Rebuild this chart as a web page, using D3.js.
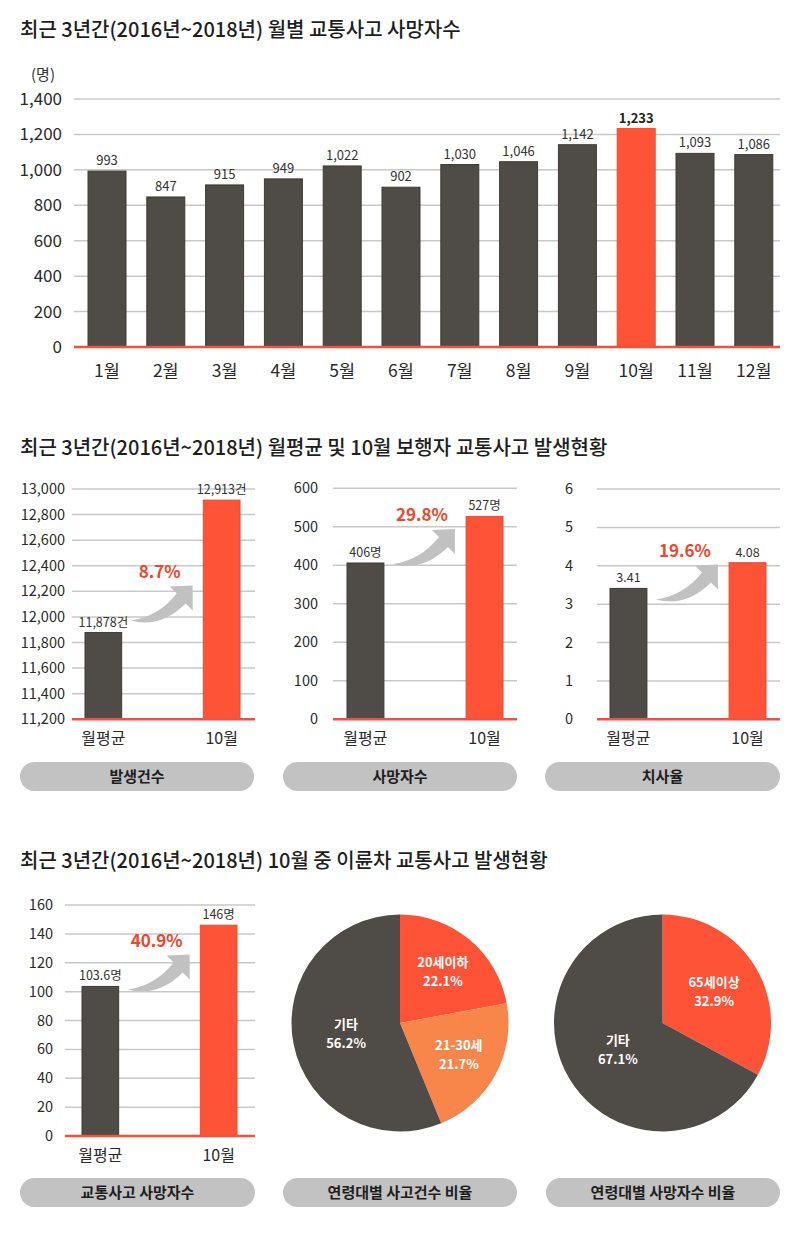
<!DOCTYPE html>
<html><head><meta charset="utf-8">
<script src="https://cdn.jsdelivr.net/npm/d3@7"></script>
<style>
body{margin:0;background:#fff;}
svg{display:block;font-family:"Noto Sans CJK KR","Noto Sans",sans-serif;}
</style>
</head><body><svg id="c" width="800" height="1244"></svg>
<script>
// ---------------- data ----------------
const chartTitles = [
  "최근 3년간(2016년~2018년) 월별 교통사고 사망자수",
  "최근 3년간(2016년~2018년) 월평균 및 10월 보행자 교통사고 발생현황",
  "최근 3년간(2016년~2018년) 10월 중 이륜차 교통사고 발생현황"
];
const months = ["1월","2월","3월","4월","5월","6월","7월","8월","9월","10월","11월","12월"];
const monthlyDeaths = [993,847,915,949,1022,902,1030,1046,1142,1233,1093,1086];
const highlightMonth = "10월";
const monthlyUnit = "(명)";

const compareCats = ["월평균","10월"];
const pedCases = [11878,12913];
const pedDeaths = [406,527];
const pedFatalityRate = [3.41,4.08];
const pedChange = ["8.7%","29.8%","19.6%"];
const motoDeaths = [103.6,146];
const motoChange = "40.9%";

const ageCaseLabels = ["20세이하","21-30세","기타"];
const ageCaseShares = [22.1,21.7,56.2];
const ageDeathLabels = ["65세이상","기타"];
const ageDeathShares = [32.9,67.1];

const panelNames = ["발생건수","사망자수","치사율","교통사고 사망자수","연령대별 사고건수 비율","연령대별 사망자수 비율"];

// ---------------- style ----------------
const DARK="#4f4b46", DARK_S="#3e3a36", RED="#fe5336", RED_S="#ee4a2f", ORANGE="#f8864b",
      GRID="#c8c8c8", BASE="#f25237", PILL="#c2c2c2", ARROW="#c1c1c1", TXT="#333";

const svg = d3.select("#c");

// titles
[[37,0],[455,1],[868,2]].forEach(([y,i])=>{
  svg.append("text").attr("x",20).attr("y",y).attr("font-size",20).attr("font-weight",500)
    .attr("fill","#1e1e1e").text(chartTitles[i]);
});

// ---------------- chart 1 ----------------
{
  const x = d3.scaleBand().domain(months).range([77.6,783.2]).paddingInner(0.354).paddingOuter(0.177);
  const y = d3.scaleLinear().domain([0,1400]).range([347,99]);
  const g = svg.append("g");
  g.append("text").attr("x",43).attr("y",80).attr("text-anchor","middle").attr("font-size",15)
    .attr("fill",TXT).text(monthlyUnit);
  const ticks = y.ticks(7);
  g.selectAll(".gl").data(ticks.filter(t=>t>0)).join("line")
    .attr("x1",74).attr("x2",780).attr("y1",d=>y(d)).attr("y2",d=>y(d))
    .attr("stroke",GRID).attr("stroke-width",1.5);
  g.selectAll(".tl").data(ticks).join("text")
    .attr("x",62).attr("y",d=>y(d)).attr("dy","0.35em").attr("text-anchor","end")
    .attr("font-size",17).attr("fill","#2a2a2a").text(d3.format(","));
  g.selectAll(".bar").data(monthlyDeaths).join("rect")
    .attr("x",(d,i)=>x(months[i])).attr("width",x.bandwidth())
    .attr("y",d=>y(d)).attr("height",d=>y(0)-y(d))
    .attr("fill",(d,i)=>months[i]===highlightMonth?RED:DARK)
    .attr("stroke",(d,i)=>months[i]===highlightMonth?RED_S:DARK_S).attr("stroke-width",1);
  g.append("line").attr("x1",74).attr("x2",780).attr("y1",y(0)).attr("y2",y(0))
    .attr("stroke",BASE).attr("stroke-width",2.5);
  g.selectAll(".vl").data(monthlyDeaths).join("text")
    .attr("x",(d,i)=>x(months[i])+x.bandwidth()/2).attr("y",d=>y(d)-6)
    .attr("text-anchor","middle").attr("font-size",13)
    .attr("font-weight",(d,i)=>months[i]===highlightMonth?700:400)
    .attr("fill",(d,i)=>months[i]===highlightMonth?"#222":TXT).text(d3.format(","));
  g.selectAll(".ml").data(months).join("text")
    .attr("x",d=>x(d)+x.bandwidth()/2).attr("y",377).attr("text-anchor","middle")
    .attr("font-size",17.5).attr("fill","#2a2a2a").text(d=>d);
}

// ---------------- helpers ----------------
function arrow(g, tx, ty){
  g.append("path")
    .attr("d","M0,0 Q28,-4 46,-27 L39,-34 L62,-35 L62,-10 L55,-17 Q30,8 0,0 Z")
    .attr("transform",`translate(${tx},${ty})`).attr("fill",ARROW);
  return [tx+62, ty-35];
}
function pill(x0,x1,y,text){
  const h=29;
  svg.append("rect").attr("x",x0).attr("y",y).attr("width",x1-x0).attr("height",h)
    .attr("rx",h/2).attr("fill",PILL);
  svg.append("text").attr("x",(x0+x1)/2).attr("y",y+h/2).attr("dy","0.36em")
    .attr("text-anchor","middle").attr("font-size",15).attr("font-weight",700)
    .attr("fill","#1e1e1e").text(text);
}
function barPanel(c){
  const g = svg.append("g");
  const y = d3.scaleLinear().domain(c.domain).range([c.yB,c.yT]);
  const x = d3.scaleBand().domain(compareCats).range([c.b0,c.b1]).paddingInner(0.69);
  const ticks = y.ticks(c.nt);
  g.selectAll(".gl").data(ticks.filter(t=>t>c.domain[0])).join("line")
    .attr("x1",c.g0).attr("x2",c.g1).attr("y1",d=>y(d)).attr("y2",d=>y(d))
    .attr("stroke",GRID).attr("stroke-width",1.5);
  g.selectAll(".tl").data(ticks).join("text")
    .attr("x",c.tx).attr("y",d=>y(d)).attr("dy","0.35em").attr("text-anchor","end")
    .attr("font-size",14.5).attr("fill","#2a2a2a").text(c.tf);
  g.selectAll(".bar").data(c.values).join("rect")
    .attr("x",(d,i)=>x(compareCats[i])).attr("width",x.bandwidth())
    .attr("y",d=>y(d)).attr("height",d=>y(c.domain[0])-y(d))
    .attr("fill",(d,i)=>i?RED:DARK).attr("stroke",(d,i)=>i?RED_S:DARK_S).attr("stroke-width",1);
  g.append("line").attr("x1",c.g0).attr("x2",c.g1).attr("y1",c.yB).attr("y2",c.yB)
    .attr("stroke",BASE).attr("stroke-width",2.5);
  g.selectAll(".vl").data(c.values).join("text")
    .attr("x",(d,i)=>x(compareCats[i])+x.bandwidth()/2).attr("y",d=>y(d)-6)
    .attr("text-anchor","middle").attr("font-size",12.5).attr("fill",TXT)
    .text(d=>c.vf(d)+c.unit);
  g.selectAll(".cl").data(compareCats).join("text")
    .attr("x",d=>x(d)+x.bandwidth()/2).attr("y",c.yB+25).attr("text-anchor","middle")
    .attr("font-size",16).attr("fill","#2a2a2a").text(d=>d);
  const tip = arrow(g, x(compareCats[0])+x.bandwidth()+9, y(c.values[0])+c.ady);
  g.append("text").attr("x",tip[0]-33).attr("y",tip[1]-14).attr("dy","0.36em")
    .attr("text-anchor","middle").attr("font-size",17).attr("font-weight",700)
    .attr("fill","#f0462b").text(c.pct);
  pill(c.p0,c.p1,c.py,c.name);
}

// ---------------- chart 2 ----------------
barPanel({values:pedCases, domain:[11200,13000], nt:9, yT:489, yB:719.3, g0:72, g1:255, b0:85, b1:240,
  tx:65, tf:d3.format(","), vf:d3.format(","), unit:"건", pct:pedChange[0], ady:-12,
  p0:20, p1:254, py:762, name:panelNames[0]});
barPanel({values:pedDeaths, domain:[0,600], nt:6, yT:488.3, yB:719.3, g0:333, g1:517, b0:347, b1:503,
  tx:318, tf:d3.format(","), vf:d3.format(","), unit:"명", pct:pedChange[1], ady:1,
  p0:283, p1:517, py:762, name:panelNames[1]});
barPanel({values:pedFatalityRate, domain:[0,6], nt:6, yT:489, yB:719.3, g0:597, g1:780, b0:610, b1:766,
  tx:573, tf:d3.format("d"), vf:d3.format(".2f"), unit:"", pct:pedChange[2], ady:11,
  p0:545, p1:780, py:762, name:panelNames[2]});

// ---------------- chart 3 ----------------
barPanel({values:motoDeaths, domain:[0,160], nt:8, yT:905, yB:1136, g0:65, g1:255, b0:82, b1:237,
  tx:53, tf:d3.format("d"), vf:d=>String(d), unit:"명", pct:motoChange, ady:3,
  p0:20, p1:255, py:1178, name:panelNames[3]});

function piePanel(cx, cy, labels, shares, colors, lr, name, p0, p1){
  const g = svg.append("g").attr("transform",`translate(${cx},${cy})`);
  const pie = d3.pie().sort(null).value(d=>d)(shares);
  const arc = d3.arc().innerRadius(0).outerRadius(108.5);
  g.selectAll("path").data(pie).join("path").attr("d",arc).attr("fill",(d,i)=>colors[i]);
  pie.forEach((d,i)=>{
    const la = d3.arc().innerRadius(lr[i]).outerRadius(lr[i]);
    const [px,py] = la.centroid(d);
    g.append("text").attr("x",px).attr("y",py-9.5).attr("dy","0.36em")
      .attr("text-anchor","middle").attr("font-size",13).attr("font-weight",700)
      .attr("fill","#fff").text(labels[i]);
    g.append("text").attr("x",px).attr("y",py+9.5).attr("dy","0.36em")
      .attr("text-anchor","middle").attr("font-size",13).attr("font-weight",700)
      .attr("fill","#fff").text(d3.format(".1f")(shares[i])+"%");
  });
  pill(p0,p1,1178,name);
}
piePanel(400,1023,ageCaseLabels,ageCaseShares,[RED,ORANGE,DARK],[67,67,55],panelNames[4],283,517);
piePanel(662.5,1023,ageDeathLabels,ageDeathShares,[RED,DARK],[60,52],panelNames[5],546,780);
</script>
</body></html>
